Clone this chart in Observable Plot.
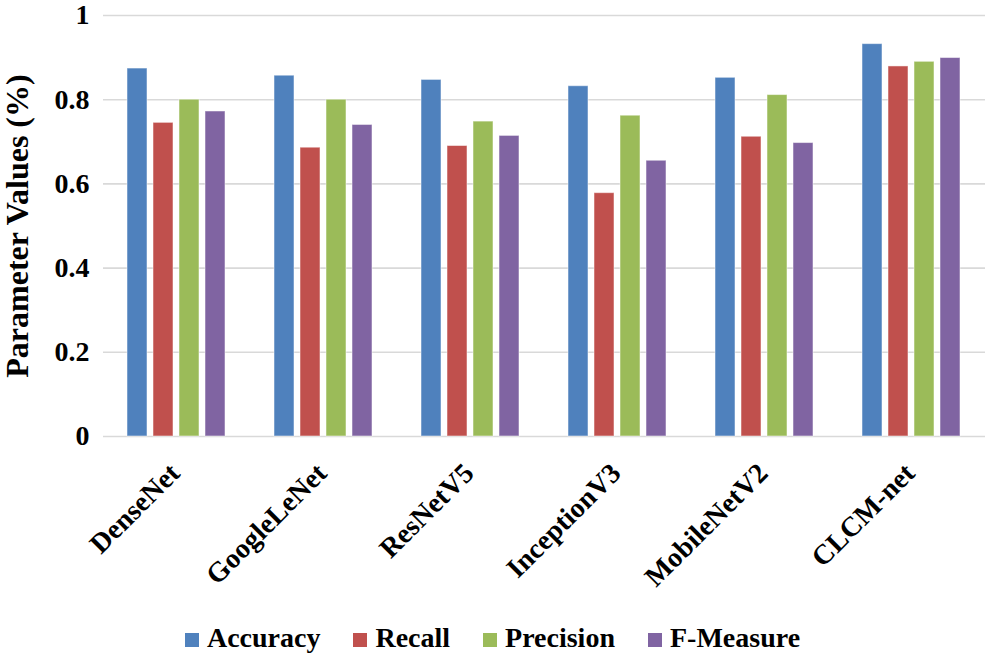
<!DOCTYPE html>
<html><head><meta charset="utf-8">
<script src="https://cdn.jsdelivr.net/npm/d3@7"></script>
<script src="https://cdn.jsdelivr.net/npm/@observablehq/plot@0.6"></script>
<style>
html,body{margin:0;padding:0;background:#fff;}
body{width:991px;height:660px;overflow:hidden;font-family:"Liberation Serif","Times New Roman",serif;}
#chart svg{display:block;}
#legend{display:flex;justify-content:center;align-items:center;height:45px;font-weight:bold;font-size:28px;line-height:32px;color:#000;padding-right:6px;}
#legend .item{display:flex;align-items:center;margin-right:33px;}
#legend .item:last-child{margin-right:0;}
#legend .sw{width:14px;height:14px;margin-right:8px;position:relative;top:2px;}
</style></head><body>
<div id="chart"></div>
<div id="legend"></div>
<script>
const models = ["DenseNet","GoogleLeNet","ResNetV5","InceptionV3","MobileNetV2","CLCM-net"];
const metrics = ["Accuracy","Recall","Precision","F-Measure"];
const colors = ["#4f81bd","#c0504d","#9bbb59","#8064a2"];
const accuracy = [0.874,0.857,0.847,0.832,0.852,0.932];
const recall = [0.745,0.686,0.690,0.578,0.712,0.879];
const precision = [0.800,0.800,0.748,0.762,0.811,0.890];
const fmeasure = [0.772,0.740,0.714,0.655,0.697,0.899];
const yTicks = [0,0.2,0.4,0.6,0.8,1];

const series = [accuracy, recall, precision, fmeasure];
const data = [];
models.forEach((m,i)=>metrics.forEach((k,j)=>data.push({model:m, metric:k, value:series[j][i]})));

const chart = Plot.plot({
  width: 991, height: 615,
  marginLeft: 102, marginRight: 6, marginTop: 15, marginBottom: 179,
  style: {fontFamily:"'Liberation Serif','Times New Roman',serif", fontWeight:"bold", fontSize:"28px", color:"#000", background:"#fff", overflow:"visible"},
  fx: {domain: models, padding: 0, label: null},
  x: {domain: metrics, paddingInner: 0.22, paddingOuter: 0.84, axis: null},
  y: {domain:[0,1], label: null},
  color: {domain: metrics, range: colors},
  marks: [
    Plot.gridY(yTicks, {stroke:"#d9d9d9", strokeOpacity:1, strokeWidth:1.6}),
    Plot.barY(data, {fx:"model", x:"metric", y:"value", fill:"metric", stroke:"#fff", strokeOpacity:0.5, strokeWidth:1}),
    Plot.axisY(yTicks, {tickSize:0, tickPadding:14, tickFormat:d=>String(d), fontSize:28, label:null}),
    Plot.axisY({ticks: [], tickSize:0, label:"Parameter Values (%)", labelAnchor:"center", labelArrow:"none", labelOffset:98, fontSize:32, dy:-26}),
    Plot.axisFx({anchor:"bottom", tickRotate:-45, tickSize:0, tickPadding:32, dx:-2, fontSize:28, label:null})
  ]
});
document.getElementById("chart").appendChild(chart);

const lg = d3.select("#legend");
metrics.forEach((m,i)=>{
  const it = lg.append("div").attr("class","item");
  it.append("div").attr("class","sw").style("background",colors[i]);
  it.append("span").text(m);
});
</script>
</body></html>
